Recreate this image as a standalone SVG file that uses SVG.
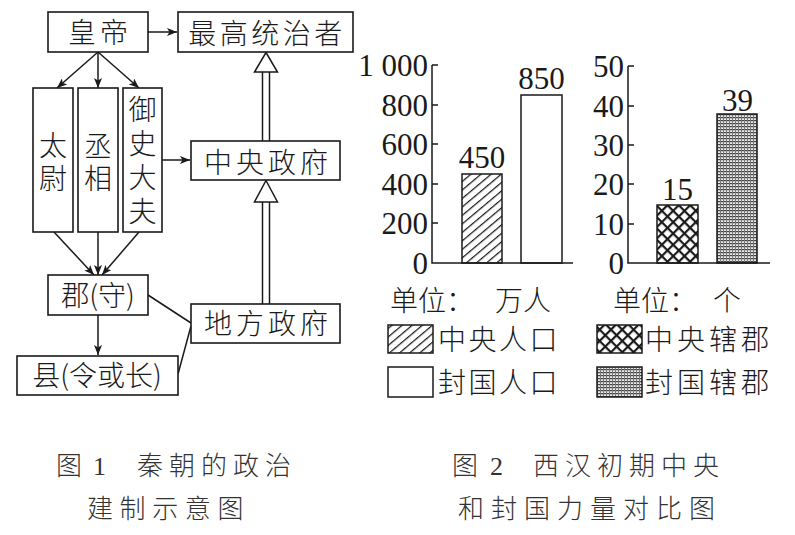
<svg xmlns="http://www.w3.org/2000/svg" width="795" height="535" viewBox="0 0 795 535">
<style>
.box{fill:#fff;stroke:#1a1a1a;stroke-width:1.6}
.ln{stroke:#1a1a1a;stroke-width:1.5;fill:none}
.t{font-family:"Noto Sans CJK SC","Noto Sans",sans-serif;font-size:28px;fill:#1a1a1a;font-weight:300}
.v{writing-mode:vertical-rl;text-orientation:upright}
.c{text-anchor:middle}
.num{font-family:"Liberation Serif",serif;font-size:31px;fill:#1a1a1a}
.cap{font-family:"Noto Sans CJK SC","Noto Sans",sans-serif;font-size:26px;fill:#333;font-weight:300}
.capn{font-family:"Liberation Serif",serif;font-size:26px;fill:#333}
.hol{fill:#fff;stroke:#1a1a1a;stroke-width:1.5}
</style>
<defs>
<marker id="ah" viewBox="0 0 10 8" refX="10" refY="4" markerWidth="10" markerHeight="8" markerUnits="userSpaceOnUse" orient="auto">
<path d="M0,0 L10,4 L0,8 L2.5,4 z" fill="#1a1a1a"/>
</marker>
<pattern id="hatch" width="6.5" height="10" patternUnits="userSpaceOnUse" patternTransform="rotate(50)">
<rect width="6.5" height="10" fill="#fff"/>
<line x1="0.6" y1="0" x2="0.6" y2="10" stroke="#1a1a1a" stroke-width="1.3"/>
</pattern>
<pattern id="cross" width="8" height="8" patternUnits="userSpaceOnUse" patternTransform="rotate(45)">
<rect width="8" height="8" fill="#fff"/>
<line x1="0" y1="1" x2="8" y2="1" stroke="#1a1a1a" stroke-width="2.4"/>
<line x1="1" y1="0" x2="1" y2="8" stroke="#1a1a1a" stroke-width="2.4"/>
</pattern>
<pattern id="dots" width="3" height="3" patternUnits="userSpaceOnUse">
<rect width="3" height="3" fill="#e8e8e8"/>
<rect x="0" y="0" width="3" height="1.2" fill="#444"/>
<rect x="0" y="0" width="1" height="3" fill="#777"/>
</pattern>
</defs>
<rect width="795" height="535" fill="#fff"/>

<g id="connectors">
<line class="ln" x1="148" y1="32" x2="177" y2="32" marker-end="url(#ah)"/>
<line class="ln" x1="98" y1="52" x2="57" y2="88" marker-end="url(#ah)"/>
<line class="ln" x1="98" y1="52" x2="98" y2="88" marker-end="url(#ah)"/>
<line class="ln" x1="98" y1="52" x2="139" y2="88" marker-end="url(#ah)"/>
<line class="ln" x1="162" y1="160" x2="190" y2="160" marker-end="url(#ah)"/>
<line class="ln" x1="54" y1="232" x2="94" y2="275" marker-end="url(#ah)"/>
<line class="ln" x1="98" y1="232" x2="98" y2="275" marker-end="url(#ah)"/>
<line class="ln" x1="139" y1="232" x2="102" y2="275" marker-end="url(#ah)"/>
<line class="ln" x1="98" y1="315" x2="98" y2="355" marker-end="url(#ah)"/>
<line class="ln" x1="148" y1="295" x2="191" y2="323"/>
<line class="ln" x1="178" y1="374" x2="191" y2="326"/>
<line class="ln" x1="262.5" y1="72" x2="262.5" y2="141"/>
<line class="ln" x1="269.5" y1="72" x2="269.5" y2="141"/>
<path class="hol" d="M266,52.5 L277.5,72 L254.5,72 z"/>
<line class="ln" x1="262.5" y1="202" x2="262.5" y2="304"/>
<line class="ln" x1="269.5" y1="202" x2="269.5" y2="304"/>
<path class="hol" d="M266,180.5 L277.5,202 L254.5,202 z"/>
</g>

<g id="huangdi">
<rect class="box" x="48" y="12" width="100" height="40"/>
<text class="t c" x="100" y="43" letter-spacing="4">皇帝</text>
</g>
<g id="zuigao">
<rect class="box" x="178" y="12" width="175" height="40"/>
<text class="t c" x="267" y="44" letter-spacing="3.5">最高统治者</text>
</g>
<g id="taiwei">
<rect class="box" x="33" y="88" width="40" height="144"/>
<text class="t v" x="53" y="131" letter-spacing="5">太尉</text>
</g>
<g id="chengxiang">
<rect class="box" x="78" y="88" width="40" height="144"/>
<text class="t v" x="98" y="132" letter-spacing="4">丞相</text>
</g>
<g id="yushidafu">
<rect class="box" x="123" y="88" width="39" height="144"/>
<text class="t v" x="142.5" y="95" letter-spacing="6">御史大夫</text>
</g>
<g id="zhongyang">
<rect class="box" x="191" y="141" width="149" height="39"/>
<text class="t c" x="268" y="173" letter-spacing="4">中央政府</text>
</g>
<g id="jun">
<rect class="box" x="48" y="275" width="100" height="40"/>
<text class="t c" x="98" y="306">郡(守)</text>
</g>
<g id="xian">
<rect class="box" x="17" y="356" width="161" height="39"/>
<text class="t c" x="97" y="386">县(令或长)</text>
</g>
<g id="difang">
<rect class="box" x="191" y="304" width="149" height="39"/>
<text class="t c" x="268" y="334" letter-spacing="4">地方政府</text>
</g>

<g id="chart1">
<rect x="462" y="174" width="40" height="89" fill="url(#hatch)" stroke="#1a1a1a" stroke-width="1.5"/>
<rect x="521" y="95" width="41" height="168" fill="#fff" stroke="#1a1a1a" stroke-width="1.5"/>
<path class="ln" d="M432,65 V263 H573 M432,65 H438 M432,105 H438 M432,144 H438 M432,184 H438 M432,223 H438"/>
<g class="num" text-anchor="end">
<text x="428" y="76">1 000</text>
<text x="428" y="116">800</text>
<text x="428" y="155">600</text>
<text x="428" y="195">400</text>
<text x="428" y="234">200</text>
<text x="428" y="274">0</text>
</g>
<text class="num c" x="482" y="168">450</text>
<text class="num c" x="541.5" y="89">850</text>
</g>

<g id="chart2">
<rect x="657" y="205" width="41" height="58" fill="url(#cross)" stroke="#1a1a1a" stroke-width="1.5"/>
<rect x="717" y="114" width="40" height="149" fill="url(#dots)" stroke="#1a1a1a" stroke-width="1.5"/>
<path class="ln" d="M628,66 V263 H770 M628,66 H634 M628,106 H634 M628,145 H634 M628,184 H634 M628,224 H634"/>
<g class="num" text-anchor="end">
<text x="624" y="77">50</text>
<text x="624" y="117">40</text>
<text x="624" y="156">30</text>
<text x="624" y="195">20</text>
<text x="624" y="235">10</text>
<text x="624" y="274">0</text>
</g>
<text class="num c" x="677.5" y="200">15</text>
<text class="num c" x="737.5" y="111">39</text>
</g>

<g id="legend">
<text class="t" x="390" y="311">单位：</text>
<text class="t" x="495" y="311">万人</text>
<text class="t" x="613" y="311">单位：</text>
<text class="t" x="713" y="311">个</text>
<rect x="388" y="325" width="45" height="28" fill="url(#hatch)" stroke="#1a1a1a" stroke-width="1.5"/>
<text class="t" x="438" y="350" letter-spacing="2.5">中央人口</text>
<rect x="388" y="367" width="45" height="30" fill="#fff" stroke="#1a1a1a" stroke-width="1.5"/>
<text class="t" x="438" y="393" letter-spacing="2.5">封国人口</text>
<rect x="597" y="325" width="45" height="28" fill="url(#cross)" stroke="#1a1a1a" stroke-width="1.5"/>
<text class="t" x="645" y="350" letter-spacing="4">中央辖郡</text>
<rect x="597" y="367" width="45" height="30" fill="url(#dots)" stroke="#1a1a1a" stroke-width="1.5"/>
<text class="t" x="645" y="393" letter-spacing="4">封国辖郡</text>
</g>

<g id="caption1">
<text class="cap" x="56" y="475">图</text>
<text class="capn" x="93" y="475">1</text>
<text class="cap" x="137" y="475" letter-spacing="6">秦朝的政治</text>
<text class="cap" x="87" y="518" letter-spacing="6.6">建制示意图</text>
</g>
<g id="caption2">
<text class="cap" x="452" y="475">图</text>
<text class="capn" x="490" y="475">2</text>
<text class="cap" x="533" y="475" letter-spacing="6">西汉初期中央</text>
<text class="cap" x="458" y="518" letter-spacing="7">和封国力量对比图</text>
</g>
</svg>
